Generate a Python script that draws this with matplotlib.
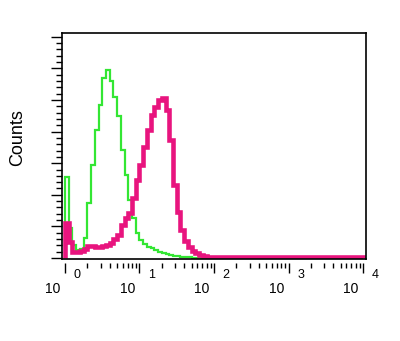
import numpy as np
import matplotlib
matplotlib.use("Agg")
import matplotlib.pyplot as plt
from matplotlib.transforms import blended_transform_factory, offset_copy
from matplotlib.ticker import MultipleLocator, LogLocator, NullFormatter

plt.rcParams['font.family'] = ['Liberation Sans', 'DejaVu Sans']

# Histogram bins: 80 channels over 4 log decades
n_bins = 80
decades = [0, 1, 2, 3, 4]

green = [2.56, 0.95, 0.40, 0.25, 0.30, 0.63, 1.74, 2.94, 4.05, 4.84,
         5.70, 5.95, 5.60, 5.10, 4.50, 3.42, 2.63, 1.84, 1.27, 0.79,
         0.57, 0.44, 0.35, 0.32, 0.25, 0.19, 0.16, 0.13, 0.10, 0.06,
         0.06, 0.03, 0.03, 0.02] + [0.0] * 46

magenta = [1.10, 0.50, 0.19, 0.19, 0.22, 0.28, 0.38, 0.38, 0.35, 0.35,
           0.38, 0.41, 0.47, 0.60, 0.73, 1.04, 1.27, 1.42, 1.90, 2.47,
           2.94, 3.51, 4.05, 4.53, 4.78, 5.00, 5.06, 4.68, 3.73, 2.30,
           1.45, 0.89, 0.54, 0.35, 0.22, 0.16, 0.10, 0.06, 0.03] + [0.02] * 41

edges = 10 ** np.linspace(decades[0], decades[-1], n_bins + 1)

fig = plt.figure(figsize=(4.0, 3.41), dpi=100)
ax = fig.add_axes([0.155, 0.2405, 0.76, 0.6628])

ax.stairs(green, edges, color='#33e633', linewidth=1.6, baseline=0)
ax.stairs(magenta, edges, color='#e8147e', linewidth=3.3, baseline=0)

ax.set_xscale('log')
ax.set_xlim(10 ** -0.04, 10 ** 4.04)
ax.set_ylim(-0.03, 7.12)

# y ticks
ax.yaxis.set_major_locator(MultipleLocator(1))
ax.yaxis.set_minor_locator(MultipleLocator(0.2))
ax.tick_params(axis='y', which='major', direction='out', length=8, width=1.0, labelleft=False)
ax.tick_params(axis='y', which='minor', direction='out', length=4.3, width=1.0)

# x ticks (offset below box)
ax.xaxis.set_major_locator(LogLocator(base=10, numticks=10))
ax.xaxis.set_minor_locator(LogLocator(base=10, subs=np.arange(2, 10), numticks=20))
ax.xaxis.set_major_formatter(NullFormatter())
ax.xaxis.set_minor_formatter(NullFormatter())
ax.tick_params(axis='x', which='major', direction='out', length=7.5, width=1.0)
ax.tick_params(axis='x', which='minor', direction='out', length=3.8, width=1.0)
ax.spines['bottom'].set_position(('outward', 3))
ax.spines['bottom'].set_visible(False)
ax.plot([0, 1], [0, 0], transform=ax.transAxes, color='black', linewidth=1.2, clip_on=False)
for s in ['top', 'left', 'right']:
    ax.spines[s].set_linewidth(1.2)

trans = blended_transform_factory(ax.transData, ax.transAxes)
for k in decades:
    t_base = offset_copy(trans, fig=fig, x=-12, y=-30, units='dots')
    t_exp = offset_copy(trans, fig=fig, x=12, y=-16, units='dots')
    ax.text(10 ** k, 0, '10', transform=t_base, ha='center', va='center', fontsize=10, clip_on=False)
    ax.text(10 ** k, 0, str(k), transform=t_exp, ha='center', va='center', fontsize=9, clip_on=False)

fig.text(17.5 / 400, 1 - 138 / 341, 'Counts', rotation=90, ha='center', va='center', fontsize=13)

fig.savefig('out.png', dpi=100)
